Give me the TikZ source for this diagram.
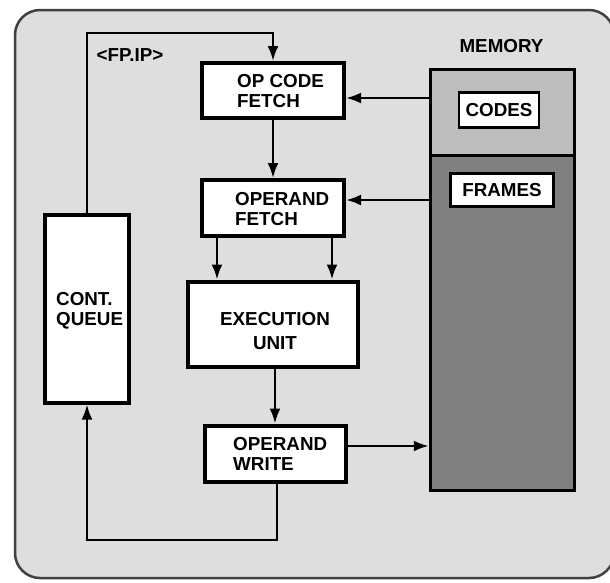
\documentclass[tikz,border=0pt]{standalone}
\usepackage{fontspec}
\setmainfont{Liberation Sans}
\usetikzlibrary{arrows.meta}
\definecolor{bgc}{gray}{0.87}
\definecolor{codesc}{gray}{0.74}
\definecolor{framesc}{gray}{0.5}
\begin{document}
\begin{tikzpicture}[x=1pt,y=-1pt,
  box/.style={draw=black, line width=4pt, fill=white, inner sep=0pt},
  txt/.style={font=\bfseries\fontsize{18.8}{19.5}\selectfont, inner sep=0pt, align=left, anchor=west},
  conn/.style={line width=2.5pt, -{Latex[length=15pt,width=11pt]}},
  lbl/.style={font=\bfseries\fontsize{18.8}{19.5}\selectfont, inner sep=0pt}]
\useasboundingbox (0,0) rectangle (610,582);
\draw[fill=bgc, draw=black!75, line width=2.5pt, rounded corners=25pt] (15,10) rectangle (614,578);
% memory
\fill[codesc] (430,69) rectangle (575,155);
\fill[framesc] (430,155) rectangle (575,491);
\draw[line width=3pt] (430,155) -- (575,155);
\node[draw=black, line width=3.5pt, minimum width=144pt, minimum height=421pt, inner sep=0pt] (mem) at (502.5,280) {};
\node[lbl] (memlbl) at (501.5,46) {MEMORY};
\node[box, line width=2.5pt, minimum width=80pt, minimum height=35pt, lbl] (codes) at (499,110) {CODES};
\node[box, line width=2.5pt, minimum width=103pt, minimum height=33pt, lbl] (frames) at (502,190) {FRAMES};
% units
\node[box, minimum width=142pt, minimum height=55pt] (opc) at (273,90.5) {};
\node[txt] (opctxt) at (237,91) {OP CODE\\FETCH};
\node[box, minimum width=142pt, minimum height=56pt] (opf) at (273,208) {};
\node[txt] (opftxt) at (235,209) {OPERAND\\FETCH};
\node[box, minimum width=170pt, minimum height=85pt] (exec) at (273,324) {};
\node[lbl, align=center] (exectxt) at (275,331) {EXECUTION\\[4.5pt]UNIT};
\node[box, minimum width=141pt, minimum height=56pt] (opw) at (275.5,453.5) {};
\node[txt] (opwtxt) at (233,454) {OPERAND\\WRITE};
\node[box, minimum width=84pt, minimum height=188pt] (cq) at (87,308.5) {};
\node[txt] (cqtxt) at (56,311) {CONT.\\QUEUE};
\node[lbl] (fpip) at (130,55) {<FP.IP>};
% connectors
\draw[conn] (cq.north) -- (cq.north |- 0,33) -| (opc.north);
\draw[conn] (opc.south) -- (opf.north);
\draw[conn] (mem.west |- 0,98) -- (opc.east |- 0,98);
\draw[conn] (mem.west |- 0,200) -- (opf.east |- 0,200);
\draw[conn] (opf.south -| 217,0) -- (exec.north -| 217,0);
\draw[conn] (opf.south -| 332,0) -- (exec.north -| 332,0);
\draw[conn] (exec.south -| 275,0) -- (opw.north -| 275,0);
\draw[conn] (opw.east |- 0,446) -- (mem.west |- 0,446);
\draw[conn] (opw.south -| 277,0) -- (277,540) -| (cq.south);
\end{tikzpicture}
\end{document}
